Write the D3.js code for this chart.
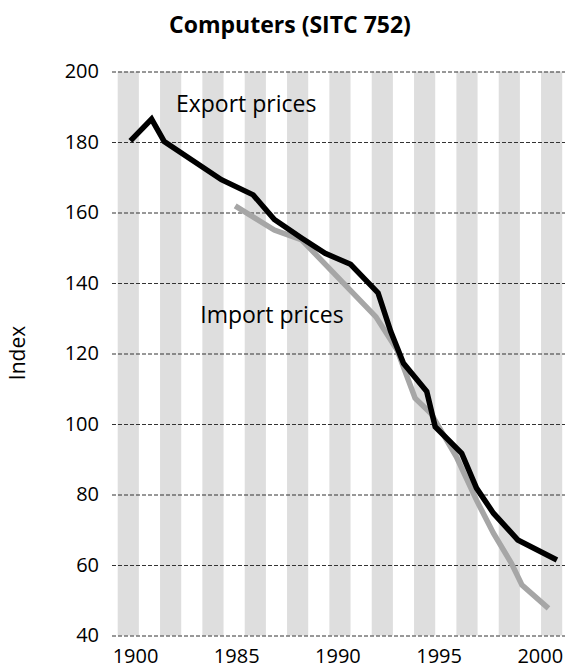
<!DOCTYPE html>
<html>
<head>
<meta charset="utf-8">
<script src="https://cdnjs.cloudflare.com/ajax/libs/d3/7.8.5/d3.min.js"></script>
<style>
body { margin: 0; background: #fff; }
svg text { font-family: "Open Sans", "Noto Sans", sans-serif; fill: #000; }
</style>
</head>
<body>
<svg id="chart" width="565" height="670"></svg>
<script>
// values, x is time in years
var exportYears  = [1980.6, 1981.6, 1982.2, 1984.9, 1986.4, 1987.4, 1988.7, 1989.8, 1991.0, 1992.3,
                    1992.9, 1993.5, 1994.6, 1995.0, 1996.25, 1996.95, 1997.75, 1998.9, 2000.75];
var exportValues = [180.3, 186.5, 180.1, 169.3, 165, 158, 152.7, 148.4, 145.3, 137.2,
                    126.2, 117.2, 109.2, 99.2, 91.7, 81.8, 74.7, 67.1, 61.4];
var importYears  = [1985.55, 1987.4, 1988.7, 1992.2, 1993.2, 1994.05, 1994.8, 1996.0, 1996.95,
                    1997.75, 1998.6, 1999.1, 2000.35];
var importValues = [161.9, 155, 152.2, 130.4, 121, 107.3, 103, 90.7, 78.4,
                    69, 60.5, 54.3, 47.7];
var bandYears = d3.range(1980, 2002, 2);   // shaded years
var yTicks = [40, 60, 80, 100, 120, 140, 160, 180, 200];
var xTickLabels = ["1900", "1985", "1990", "1995", "2000"];

var svg = d3.select("#chart");
var W = 565;
var left = 112;

// scales
var x = d3.scaleLinear().domain([1980, 2002]).range([117.7, 583.4]);
var y = d3.scaleLinear().domain([40, 200]).range([635.5, 71.5]);
var xLab = d3.scalePoint().domain(xTickLabels).range([x(1980.82), x(1999.94)]);

/* shaded year bands */
svg.append("g")
  .selectAll("rect")
  .data(bandYears)
  .enter().append("rect")
  .attr("x", function(d) { return x(d); })
  .attr("width", function(d) { return x(d + 1) - x(d); })
  .attr("y", y(200))
  .attr("height", y(40) - y(200))
  .attr("fill", "#dedede");

/* y axis with dashed grid */
var yAxis = svg.append("g")
  .attr("transform", "translate(" + left + ",0)")
  .call(d3.axisLeft(y).tickValues(yTicks).tickSize(-(W - left)).tickPadding(13));
yAxis.select(".domain").remove();
yAxis.selectAll(".tick line")
  .attr("stroke", "#333")
  .attr("stroke-dasharray", "4,2");
yAxis.selectAll(".tick text")
  .style("font-size", "20px")
  .attr("fill", "#000");

/* x axis labels */
var xAxis = svg.append("g")
  .attr("transform", "translate(0," + y(40) + ")")
  .call(d3.axisBottom(xLab).tickSize(0).tickPadding(13));
xAxis.select(".domain").remove();
xAxis.selectAll(".tick text")
  .style("font-size", "20px")
  .attr("fill", "#000");

/* lines */
var line = d3.line()
  .x(function(d) { return x(d[0]); })
  .y(function(d) { return y(d[1]); });

svg.append("path")
  .attr("d", line(d3.zip(importYears, importValues)))
  .attr("fill", "none")
  .attr("stroke", "#a6a6a6")
  .attr("stroke-width", 5.5)
  .attr("stroke-linejoin", "miter");

svg.append("path")
  .attr("d", line(d3.zip(exportYears, exportValues)))
  .attr("fill", "none")
  .attr("stroke", "#000")
  .attr("stroke-width", 5.5)
  .attr("stroke-linejoin", "miter");

/* series labels */
svg.append("text")
  .attr("x", x(1982.75))
  .attr("y", y(188.6))
  .style("font-size", "23px")
  .text("Export prices");

svg.append("text")
  .attr("x", x(1983.9))
  .attr("y", y(128.7))
  .style("font-size", "23px")
  .text("Import prices");

// title
svg.append("text")
  .attr("x", 290)
  .attr("y", 33)
  .attr("text-anchor", "middle")
  .style("font-size", "23px")
  .style("font-weight", "bold")
  .text("Computers (SITC 752)");

// y label
svg.append("text")
  .attr("transform", "translate(25,353) rotate(-90)")
  .attr("text-anchor", "middle")
  .style("font-size", "21px")
  .text("Index");
</script>
</body>
</html>
